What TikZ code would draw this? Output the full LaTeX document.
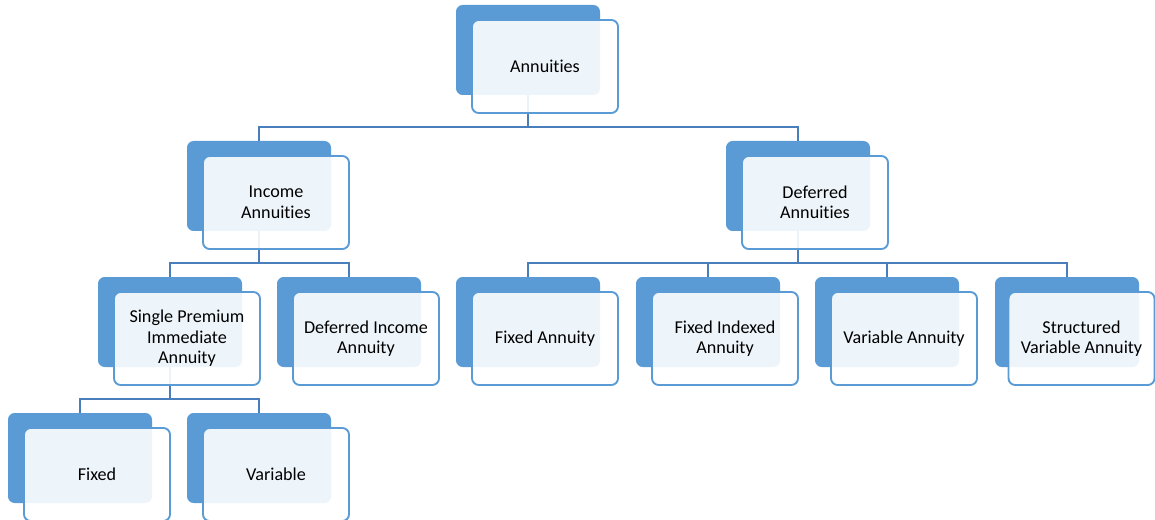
\documentclass[tikz,border=0pt]{standalone}
\usepackage{fontspec}
\setmainfont{Carlito}[Ligatures=NoCommon]
\usetikzlibrary{calc}
\definecolor{accent}{HTML}{5B9BD5}
\definecolor{connc}{HTML}{4A7EBB}
\begin{document}
\begin{tikzpicture}[x=0.75pt,y=-0.75pt,
  backbox/.style={draw=none, fill=accent, rounded corners=5pt,
    minimum width=108pt, minimum height=67.5pt, inner sep=0pt, outer sep=0pt},
  frontbox/.style={draw=accent, line width=1.4pt, fill=white, fill opacity=0.9,
    text opacity=1, rounded corners=5pt, minimum width=109.5pt,
    minimum height=69.75pt, inner sep=0pt, align=center,
    font=\fontsize{13.6}{15.4}\selectfont, text=black},
  conn/.style={draw=connc, line width=1.6pt}]
\useasboundingbox (0,0) rectangle (1155,520);
% back boxes
\node[backbox] (ann) at (528,50) {};
\node[backbox] (inc) at (259,186) {};
\node[backbox] (def) at (798,186) {};
\node[backbox] (spia) at (170,322) {};
\node[backbox] (dia) at (349,322) {};
\node[backbox] (fa) at (528,322) {};
\node[backbox] (fia) at (708,322) {};
\node[backbox] (va) at (887,322) {};
\node[backbox] (sva) at (1067,322) {};
\node[backbox] (fix) at (80,458) {};
\node[backbox] (var) at (259,458) {};
% connectors
\foreach \p/\c in {ann/inc, ann/def, inc/spia, inc/dia, def/fa, def/fia, def/va, def/sva, spia/fix, spia/var}{
  \draw[conn] (\p.south) |- ($(\c.north)+(0,-14)$) -- (\c.north);
}
% front boxes
\node[frontbox] (annf) at ($(ann.center)+(17,16.5)$) {Annuities};
\node[frontbox] (incf) at ($(inc.center)+(17,16.5)$) {Income\\Annuities};
\node[frontbox] (deff) at ($(def.center)+(17,16.5)$) {Deferred\\Annuities};
\node[frontbox] (spiaf) at ($(spia.center)+(17,16.5)$) {Single Premium\\Immediate\\Annuity};
\node[frontbox] (diaf) at ($(dia.center)+(17,16.5)$) {Deferred Income\\Annuity};
\node[frontbox] (faf) at ($(fa.center)+(17,16.5)$) {Fixed Annuity};
\node[frontbox] (fiaf) at ($(fia.center)+(17,16.5)$) {Fixed Indexed\\Annuity};
\node[frontbox] (vaf) at ($(va.center)+(17,16.5)$) {Variable Annuity};
\node[frontbox] (svaf) at ($(sva.center)+(14.5,16.5)$) {Structured\\Variable Annuity};
\node[frontbox] (fixf) at ($(fix.center)+(17,16.5)$) {Fixed};
\node[frontbox] (varf) at ($(var.center)+(17,16.5)$) {Variable};
\end{tikzpicture}
\end{document}
